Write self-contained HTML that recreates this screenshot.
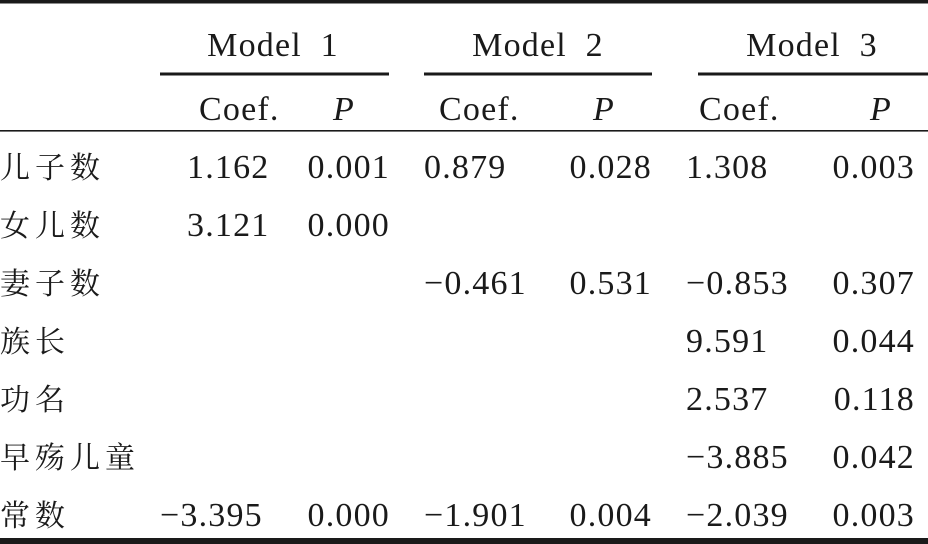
<!DOCTYPE html>
<html><head><meta charset="utf-8"><style>
html,body{margin:0;padding:0;background:#fff;}
svg{display:block}
text{font-family:"Liberation Serif","Noto Serif CJK SC",serif;font-size:34px;fill:#1a1a1a;letter-spacing:1.2px}
.hd{word-spacing:9px}
.cn{font-family:"Liberation Serif","Noto Serif CJK SC","Noto Sans CJK SC",serif;font-size:30px;letter-spacing:5px}
</style></head><body>
<svg id="t" width="928" height="544">
<rect x="0" y="0" width="928" height="3.5" fill="#1a1a1a"/>
<rect x="160" y="72.5" width="229" height="3" fill="#1a1a1a"/>
<rect x="424" y="72.5" width="228" height="3" fill="#1a1a1a"/>
<rect x="698" y="72.5" width="230" height="3" fill="#1a1a1a"/>
<rect x="0" y="130" width="928" height="1.6" fill="#1a1a1a"/>
<rect x="0" y="538" width="928" height="6" fill="#1a1a1a"/>
<text class="hd" x="273" y="56" text-anchor="middle">Model 1</text>
<text class="hd" x="538" y="56" text-anchor="middle">Model 2</text>
<text class="hd" x="812" y="56" text-anchor="middle">Model 3</text>
<text x="199" y="120">Coef.</text>
<text x="344" y="120" font-style="italic" text-anchor="middle">P</text>
<text x="439" y="120">Coef.</text>
<text x="604" y="120" font-style="italic" text-anchor="middle">P</text>
<text x="699" y="120">Coef.</text>
<text x="881" y="120" font-style="italic" text-anchor="middle">P</text>

<text class="cn" x="0" y="178">儿子数</text>
<text class="cn" x="0" y="236">女儿数</text>
<text class="cn" x="0" y="294">妻子数</text>
<text class="cn" x="0" y="352">族长</text>
<text class="cn" x="0" y="410">功名</text>
<text class="cn" x="0" y="468">早殇儿童</text>
<text class="cn" x="0" y="526">常数</text>

<text x="187" y="178">1.162</text>
<text x="390" y="178" text-anchor="end">0.001</text>
<text x="424" y="178">0.879</text>
<text x="652" y="178" text-anchor="end">0.028</text>
<text x="686" y="178">1.308</text>
<text x="915" y="178" text-anchor="end">0.003</text>

<text x="187" y="236">3.121</text>
<text x="390" y="236" text-anchor="end">0.000</text>

<text x="424" y="294">−0.461</text>
<text x="652" y="294" text-anchor="end">0.531</text>
<text x="686" y="294">−0.853</text>
<text x="915" y="294" text-anchor="end">0.307</text>

<text x="686" y="352">9.591</text>
<text x="915" y="352" text-anchor="end">0.044</text>

<text x="686" y="410">2.537</text>
<text x="915" y="410" text-anchor="end">0.118</text>

<text x="686" y="468">−3.885</text>
<text x="915" y="468" text-anchor="end">0.042</text>

<text x="160" y="526">−3.395</text>
<text x="390" y="526" text-anchor="end">0.000</text>
<text x="424" y="526">−1.901</text>
<text x="652" y="526" text-anchor="end">0.004</text>
<text x="686" y="526">−2.039</text>
<text x="915" y="526" text-anchor="end">0.003</text>
</svg>
</body></html>
